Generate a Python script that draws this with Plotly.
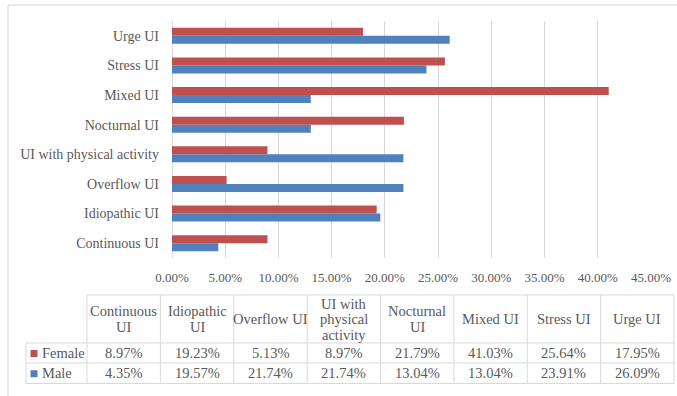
import plotly.graph_objects as go

W, H = 677, 396

categories = ["Continuous UI", "Idiopathic UI", "Overflow UI", "UI with physical activity",
              "Nocturnal UI", "Mixed UI", "Stress UI", "Urge UI"]
header_labels = ["Continuous<br>UI", "Idiopathic<br>UI", "Overflow UI",
                 "UI with<br>physical<br>activity", "Nocturnal<br>UI", "Mixed UI",
                 "Stress UI", "Urge UI"]
female = [8.97, 19.23, 5.13, 8.97, 21.79, 41.03, 25.64, 17.95]
male = [4.35, 19.57, 21.74, 21.74, 13.04, 13.04, 23.91, 26.09]
series_names = ["Female", "Male"]
series_colors = ["#C0504D", "#4F81BD"]

FONT = "Liberation Serif"
TXT = "#595959"
GRID = "#D9D9D9"

def px(x):
    return x / W

def py(y):
    return 1 - y / H

fig = go.Figure()
# Male first so that Female sits above within each group
fig.add_trace(go.Bar(y=categories, x=[v / 100 for v in male], orientation="h",
                     name="Male", marker_color=series_colors[1], marker_line_width=0))
fig.add_trace(go.Bar(y=categories, x=[v / 100 for v in female], orientation="h",
                     name="Female", marker_color=series_colors[0], marker_line_width=0))

fig.update_layout(
    width=W, height=H, margin=dict(l=0, r=0, t=0, b=0, autoexpand=False),
    paper_bgcolor="white", plot_bgcolor="white",
    barmode="group", bargap=0.46, bargroupgap=0,
    showlegend=False,
    font=dict(family=FONT, color=TXT),
    xaxis=dict(domain=[px(172), px(651)], range=[0, 0.45001], dtick=0.05,
               tickformat=".2%", showgrid=True, gridcolor=GRID, gridwidth=1,
               zeroline=True, zerolinecolor=GRID, zerolinewidth=1,
               showline=False, ticks="", ticklabelstandoff=10, automargin=False,
               tickfont=dict(family=FONT, size=13, color=TXT)),
    yaxis=dict(domain=[py(258), py(21)], showgrid=False, zeroline=False,
               showline=False, ticks="", ticklabelstandoff=12, automargin=False,
               tickfont=dict(family=FONT, size=14, color=TXT)),
)

shapes = []
annotations = []
line = dict(color=GRID, width=1)

def hline(y, x0, x1, ln=line):
    shapes.append(dict(type="line", xref="paper", yref="paper",
                       x0=px(x0), x1=px(x1), y0=py(y), y1=py(y), line=ln))

def vline(x, y0, y1, ln=line):
    shapes.append(dict(type="line", xref="paper", yref="paper",
                       x0=px(x), x1=px(x), y0=py(y0), y1=py(y1), line=ln))

# outer chart border (top and left edges visible)
border = dict(color="#E3E3E3", width=1.5)
hline(5, 8, W, border)
vline(8, 5, H, border)

# data table geometry
tbl_left, col0_right, tbl_right = 26, 87, 674
ncol = len(categories)
colw = (tbl_right - col0_right) / ncol
col_edges = [col0_right + i * colw for i in range(ncol + 1)]
row_top, row_hdr, row_f, row_m = 295, 343, 363, 383.5

hline(row_top, col0_right, tbl_right)
for y in (row_hdr, row_f, row_m):
    hline(y, tbl_left, tbl_right)
vline(tbl_left, row_hdr, row_m)
for x in col_edges:
    vline(x, row_top, row_m)

TFS = 14.5
line_h = 15.5
hdr_center = (row_top + row_hdr) / 2
for i, lab in enumerate(header_labels):
    parts = lab.split("<br>")
    n = len(parts)
    cx = (col_edges[i] + col_edges[i + 1]) / 2
    for k, p in enumerate(parts):
        yy = hdr_center + (k - (n - 1) / 2) * line_h
        annotations.append(dict(xref="paper", yref="paper", x=px(cx), y=py(yy),
                                text=p, showarrow=False, xanchor="center", yanchor="middle",
                                font=dict(family=FONT, size=TFS, color=TXT)))

rows = [(female, (row_hdr + row_f) / 2), (male, (row_f + row_m) / 2)]
for r, (vals, cy) in enumerate(rows):
    # legend swatch
    shapes.append(dict(type="rect", xref="paper", yref="paper",
                       x0=px(30.5), x1=px(37.5), y0=py(cy - 3), y1=py(cy + 4),
                       fillcolor=series_colors[r], line=dict(width=0)))
    annotations.append(dict(xref="paper", yref="paper", x=px(39.5), y=py(cy),
                            text=series_names[r],
                            showarrow=False, xanchor="left", yanchor="middle",
                            font=dict(family=FONT, size=TFS, color=TXT)))
    for i, v in enumerate(vals):
        cx = (col_edges[i] + col_edges[i + 1]) / 2
        annotations.append(dict(xref="paper", yref="paper", x=px(cx), y=py(cy),
                                text=f"{v:.2f}%", showarrow=False,
                                xanchor="center", yanchor="middle",
                                font=dict(family=FONT, size=TFS, color=TXT)))

fig.update_layout(shapes=shapes, annotations=annotations)
fig.write_html("out.html")
